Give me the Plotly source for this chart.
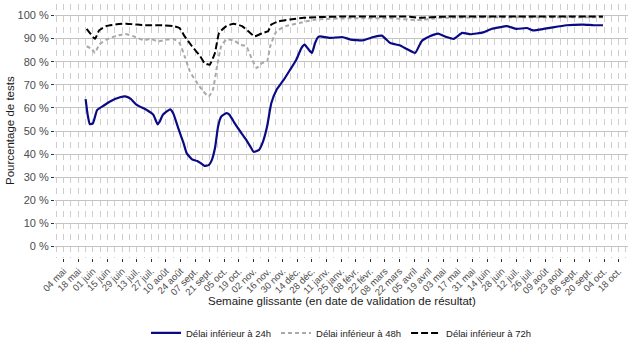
import plotly.graph_objects as go
import pandas as pd

# ---------------- data ----------------
d24 = ["2020-05-25","2020-05-27","2020-05-29","2020-06-01","2020-06-05","2020-06-11","2020-06-17",
       "2020-06-27","2020-07-02","2020-07-07","2020-07-13","2020-07-23","2020-07-29","2020-08-02",
       "2020-08-04","2020-08-07","2020-08-14","2020-08-17","2020-08-22","2020-08-27","2020-08-30",
       "2020-09-04","2020-09-09","2020-09-12","2020-09-16","2020-09-20","2020-09-23","2020-09-26",
       "2020-09-29","2020-10-02","2020-10-07","2020-10-10","2020-10-15","2020-10-20","2020-10-25",
       "2020-10-30","2020-11-02","2020-11-07","2020-11-11","2020-11-15","2020-11-19","2020-11-24",
       "2020-12-01","2020-12-07","2020-12-13","2020-12-18","2020-12-21","2020-12-25","2020-12-28",
       "2020-12-31","2021-01-03","2021-01-05","2021-01-14","2021-01-26","2021-02-03","2021-02-15",
       "2021-02-25","2021-03-05","2021-03-13","2021-03-22","2021-03-29","2021-04-06","2021-04-12",
       "2021-04-20","2021-04-28","2021-05-06","2021-05-13","2021-05-21","2021-05-29","2021-06-10",
       "2021-06-18","2021-07-03","2021-07-12","2021-07-22","2021-07-28","2021-08-07","2021-08-16",
       "2021-08-29","2021-09-14","2021-09-24","2021-10-03"]
v24 = [63.8,57.0,53.0,53.3,59.0,60.9,62.7,
       64.6,65.0,64.0,61.3,59.0,57.0,52.9,
       54.0,57.0,59.4,57.7,51.0,44.6,40.3,
       37.7,37.0,36.2,34.9,35.2,37.4,42.5,
       51.9,56.2,57.7,57.0,53.3,50.0,46.8,
       43.2,41.0,41.7,45.3,51.9,62.0,67.8,
       72.2,76.5,80.9,86.0,87.4,85.2,83.8,
       88.1,90.7,91.0,90.3,90.7,89.6,89.3,
       90.7,91.3,88.1,87.1,85.5,83.8,88.8,
       91.0,92.2,90.7,89.9,92.5,91.9,92.7,
       94.2,95.4,94.2,94.6,93.6,94.2,94.9,
       95.8,96.1,95.8,95.8]

d48 = ["2020-05-26","2020-05-31","2020-06-03","2020-06-07","2020-06-14","2020-06-24","2020-07-02",
       "2020-07-10","2020-07-20","2020-07-26","2020-08-03","2020-08-11","2020-08-17","2020-08-23",
       "2020-08-28","2020-09-02","2020-09-08","2020-09-15","2020-09-20","2020-09-24","2020-09-28",
       "2020-10-02","2020-10-07","2020-10-14","2020-10-20","2020-10-26","2020-10-31","2020-11-05",
       "2020-11-10","2020-11-15","2020-11-18","2020-11-24","2020-12-03","2020-12-16","2021-01-01",
       "2021-02-01","2021-03-15","2021-04-08","2021-05-01","2021-07-01","2021-10-03"]
v48 = [86.7,85.5,83.8,87.4,89.6,91.3,92.0,
       91.0,89.3,89.9,88.8,89.6,89.9,88.1,
       82.3,75.8,71.4,67.1,64.9,67.8,78.0,
       86.7,89.6,89.3,87.4,86.7,81.6,77.3,
       79.4,80.1,86.7,93.2,95.4,96.8,98.3,
       98.8,98.8,98.0,99.0,99.3,99.3]

d72 = ["2020-05-26","2020-05-29","2020-06-03","2020-06-07","2020-06-14","2020-06-24","2020-07-03",
       "2020-07-13","2020-07-23","2020-08-04","2020-08-17","2020-08-23","2020-08-28","2020-09-04",
       "2020-09-12","2020-09-16","2020-09-21","2020-09-26","2020-09-30","2020-10-07","2020-10-14",
       "2020-10-22","2020-10-28","2020-11-03","2020-11-11","2020-11-16","2020-11-19","2020-11-26",
       "2020-12-07","2020-12-20","2021-01-01","2021-02-01","2021-04-01","2021-04-10","2021-05-01",
       "2021-07-01","2021-10-03"]
v72 = [94.2,92.5,89.9,93.6,95.5,96.2,96.5,
       96.1,95.8,95.8,95.4,94.6,91.0,86.7,
       82.3,79.4,78.7,83.8,92.5,95.4,96.5,
       95.4,93.2,91.0,92.5,93.2,96.1,97.5,
       98.3,99.0,99.3,99.6,99.5,99.0,99.5,
       99.6,99.6]

tick_labels = ["04 mai","18 mai","01 juin","15 juin","29 juin","13 juil.","27 juil.","10 août",
               "24 août","07 sept.","21 sept.","05 oct.","19 oct.","02 nov.","16 nov.","30 nov.",
               "14 déc.","28 déc.","11 janv.","25 janv.","08 févr.","22 févr.","08 mars","22 mars",
               "05 avril","19 avril","03 mai","17 mai","31 mai","14 juin","28 juin","12 juil.",
               "26 juil.","09 août","23 août","06 sept.","20 sept.","04 oct.","18 oct."]
tick_dates = pd.date_range("2020-05-04", periods=len(tick_labels), freq="14D")

y_ticks = list(range(0, 101, 10))
y_labels = [f"{v} %" for v in y_ticks]

series_names = ["Délai inférieur à 24h", "Délai inférieur à 48h", "Délai inférieur à 72h"]

# ---------------- figure ----------------
FONT = "Liberation Sans, Arial, sans-serif"
fig = go.Figure()
fig.add_trace(go.Scatter(x=d24, y=v24, mode="lines", name=series_names[0],
                         line=dict(color="#0a0a85", width=2.2, shape="spline", smoothing=0.4)))
fig.add_trace(go.Scatter(x=d48, y=v48, mode="lines", name=series_names[1],
                         line=dict(color="#a9a9a9", width=2, dash="4px,3px", shape="spline", smoothing=0.4)))
fig.add_trace(go.Scatter(x=d72, y=v72, mode="lines", name=series_names[2],
                         line=dict(color="#000000", width=2, dash="7px,3px", shape="spline", smoothing=0.4)))

fig.update_layout(
    width=635, height=353,
    margin=dict(l=55, r=7, t=4, b=95),
    plot_bgcolor="white", paper_bgcolor="white",
    font=dict(family=FONT, size=11, color="#4d4d4d"),
    showlegend=True,
    legend=dict(orientation="h", x=0.5, xanchor="center", y=-0.295, yanchor="middle",
                font=dict(size=9.5, color="#1a1a1a"), itemwidth=30, tracegroupgap=0),
    xaxis=dict(
        type="date",
        range=["2020-04-25 16:00", "2021-10-27"],
        tickmode="array", tickvals=tick_dates, ticktext=tick_labels,
        tickangle=-45, tickfont=dict(size=9.5, color="#4d4d4d"),
        ticks="outside", ticklen=3, tickcolor="#333333",
        showgrid=True, gridcolor="#cdcdcd", griddash="6px,5.5px", gridwidth=1.3,
        minor=dict(dtick=7 * 86400000, tick0="2020-04-27", showgrid=True,
                   gridcolor="#cdcdcd", griddash="6px,5.5px", gridwidth=1.3),
        zeroline=False, showline=False,
    ),
    yaxis=dict(
        range=[-5, 105],
        tickmode="array", tickvals=y_ticks, ticktext=y_labels,
        tickfont=dict(size=11, color="#4d4d4d"),
        ticks="outside", ticklen=3, tickcolor="#333333",
        showgrid=True, gridcolor="#c4c4c4", gridwidth=1.3,
        zeroline=False, showline=False,
    ),
    annotations=[
        dict(text="Semaine glissante (en date de validation de résultat)", xref="paper", yref="paper",
             x=0.5, y=-(301 - 258) / 254, xanchor="center", yanchor="middle", showarrow=False,
             font=dict(size=11.5, color="#1a1a1a")),
        dict(text="Pourcentage de tests", xref="paper", yref="paper",
             x=-(55 - 10) / 573, y=0.5, xanchor="center", yanchor="middle", textangle=-90,
             showarrow=False, font=dict(size=11.5, color="#1a1a1a")),
    ],
)

fig.write_html("out.html")
